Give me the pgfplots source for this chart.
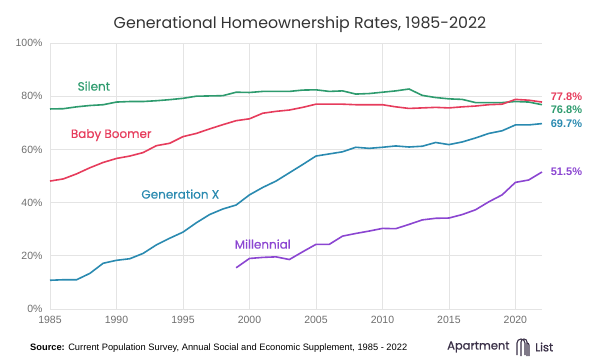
\documentclass[border=0pt]{standalone}
\usepackage{fontspec}
\setmainfont{Liberation Sans}
\newfontfamily\geo{Poppins}
\newfontfamily\geob[FakeBold=1.2]{Poppins}
\newfontfamily\geom[FakeBold=0.5]{Poppins}
\usepackage{pgfplots}
\pgfplotsset{compat=1.18}
\definecolor{silent}{HTML}{2E9B6E}
\definecolor{boomer}{HTML}{E63C5C}
\definecolor{genx}{HTML}{2A8AB0}
\definecolor{mill}{HTML}{8B45D1}
\definecolor{gridc}{HTML}{E4E4E4}
\definecolor{tickc}{HTML}{6E6E6E}
\definecolor{logoc}{HTML}{3B3148}
\begin{document}
\begin{tikzpicture}
\path[use as bounding box] (0pt,0pt) rectangle (600pt,-364pt);
\node[font=\geo\fontsize{15.8}{18}\selectfont, text=black!80] at (300pt,-25pt) {Generational Homeownership Rates, 1985-2022};
\begin{axis}[at={(50pt,-309pt)}, anchor=south west,
  width=492pt, height=266pt, scale only axis,
  xmin=1985, xmax=2022, ymin=0, ymax=100,
  xtick={1985,1990,...,2020}, ytick={0,20,...,100},
  grid=major, grid style={gridc, line width=0.8pt},
  axis line style={draw=none}, major tick length=0pt,
  /pgf/number format/assume math mode=true,
  x tick label style={/pgf/number format/1000 sep={}, font=\fontsize{10.5}{12}\selectfont, text=tickc, yshift=-4pt},
  y tick label style={font=\fontsize{10.5}{12}\selectfont, text=tickc, xshift=-4pt},
  yticklabel={\pgfmathprintnumber{\tick}\%},
  clip=false]
\addplot[silent, line width=1.6pt] coordinates {
(1985,75.2)(1986,75.3)(1987,76.0)(1988,76.5)(1989,76.8)(1990,77.8)(1991,78.0)(1992,78.0)(1993,78.3)(1994,78.7)
(1995,79.2)(1996,80.0)(1997,80.1)(1998,80.2)(1999,81.5)(2000,81.4)(2001,81.8)(2002,81.8)(2003,81.8)(2004,82.3)
(2005,82.4)(2006,81.8)(2007,82.0)(2008,80.8)(2009,81.0)(2010,81.5)(2011,82.0)(2012,82.7)(2013,80.3)(2014,79.5)
(2015,79.0)(2016,78.8)(2017,77.6)(2018,77.6)(2019,77.6)(2020,78.0)(2021,77.8)(2022,76.8)};
\addplot[boomer, line width=1.6pt] coordinates {
(1985,48.1)(1986,48.9)(1987,50.8)(1988,53.1)(1989,55.1)(1990,56.6)(1991,57.5)(1992,58.8)(1993,61.4)(1994,62.3)
(1995,64.8)(1996,66.0)(1997,67.7)(1998,69.3)(1999,70.8)(2000,71.5)(2001,73.6)(2002,74.3)(2003,74.8)(2004,75.8)
(2005,77.0)(2006,77.0)(2007,77.0)(2008,76.8)(2009,76.8)(2010,76.8)(2011,76.0)(2012,75.4)(2013,75.6)(2014,75.8)
(2015,75.6)(2016,76.0)(2017,76.3)(2018,76.8)(2019,77.0)(2020,78.8)(2021,78.5)(2022,77.8)};
\addplot[genx, line width=1.6pt] coordinates {
(1985,10.8)(1986,11.0)(1987,11.0)(1988,13.4)(1989,17.2)(1990,18.3)(1991,18.9)(1992,20.9)(1993,24.1)(1994,26.6)
(1995,28.9)(1996,32.4)(1997,35.5)(1998,37.6)(1999,39.1)(2000,42.9)(2001,45.7)(2002,48.1)(2003,51.2)(2004,54.3)
(2005,57.5)(2006,58.3)(2007,59.1)(2008,60.8)(2009,60.4)(2010,60.8)(2011,61.3)(2012,60.9)(2013,61.2)(2014,62.6)
(2015,61.8)(2016,62.8)(2017,64.3)(2018,66.0)(2019,67.0)(2020,69.2)(2021,69.2)(2022,69.7)};
\addplot[mill, line width=1.6pt] coordinates {
(1999,15.5)(2000,19.0)(2001,19.4)(2002,19.6)(2003,18.6)(2004,21.5)
(2005,24.3)(2006,24.3)(2007,27.4)(2008,28.4)(2009,29.3)(2010,30.3)(2011,30.2)(2012,31.8)(2013,33.5)(2014,34.1)
(2015,34.2)(2016,35.5)(2017,37.3)(2018,40.3)(2019,42.9)(2020,47.6)(2021,48.5)(2022,51.5)};
\node[font=\geom\fontsize{12}{14}\selectfont, text=silent] at (axis cs:1988.3,83.8) {Silent};
\node[font=\geom\fontsize{12}{14}\selectfont, text=boomer] at (axis cs:1989.6,65.4) {Baby Boomer};
\node[font=\geom\fontsize{12}{14}\selectfont, text=genx] at (axis cs:1994.8,43.2) {Generation X};
\node[font=\geom\fontsize{12}{14}\selectfont, text=mill] at (axis cs:2001.0,24.4) {Millennial};
\node[font=\bfseries\fontsize{11}{13}\selectfont, text=boomer, anchor=west] at (axis cs:2022.4,79.7) {77.8\%};
\node[font=\bfseries\fontsize{11}{13}\selectfont, text=silent, anchor=west] at (axis cs:2022.4,74.8) {76.8\%};
\node[font=\bfseries\fontsize{11}{13}\selectfont, text=genx, anchor=west] at (axis cs:2022.4,69.5) {69.7\%};
\node[font=\bfseries\fontsize{11}{13}\selectfont, text=mill, anchor=west] at (axis cs:2022.4,51.5) {51.5\%};
\end{axis}
\node[anchor=west, font=\fontsize{9.3}{10}\selectfont, inner sep=0pt] at (30pt,-348pt) {\textbf{Source:} Current Population Survey, Annual Social and Economic Supplement, 1985 - 2022};
\node[anchor=west, font=\geob\fontsize{11.5}{13}\selectfont, text=logoc, inner sep=0pt] at (447pt,-347pt) {Apartment};
\node[anchor=west, font=\geob\fontsize{11.5}{13}\selectfont, text=logoc, inner sep=0pt] at (535pt,-347pt) {List};
\begin{scope}[logoc, line width=1.1pt]
\draw (517pt,-355pt) -- (517pt,-343pt) arc (180:0:4pt) -- (525pt,-355pt);
\draw (521pt,-356pt) -- (521pt,-342pt) arc (180:0:3pt) -- (527pt,-356pt) ;
\draw (529pt,-356pt) -- (529pt,-345pt) arc (0:90:2pt);
\end{scope}
\end{tikzpicture}
\end{document}
